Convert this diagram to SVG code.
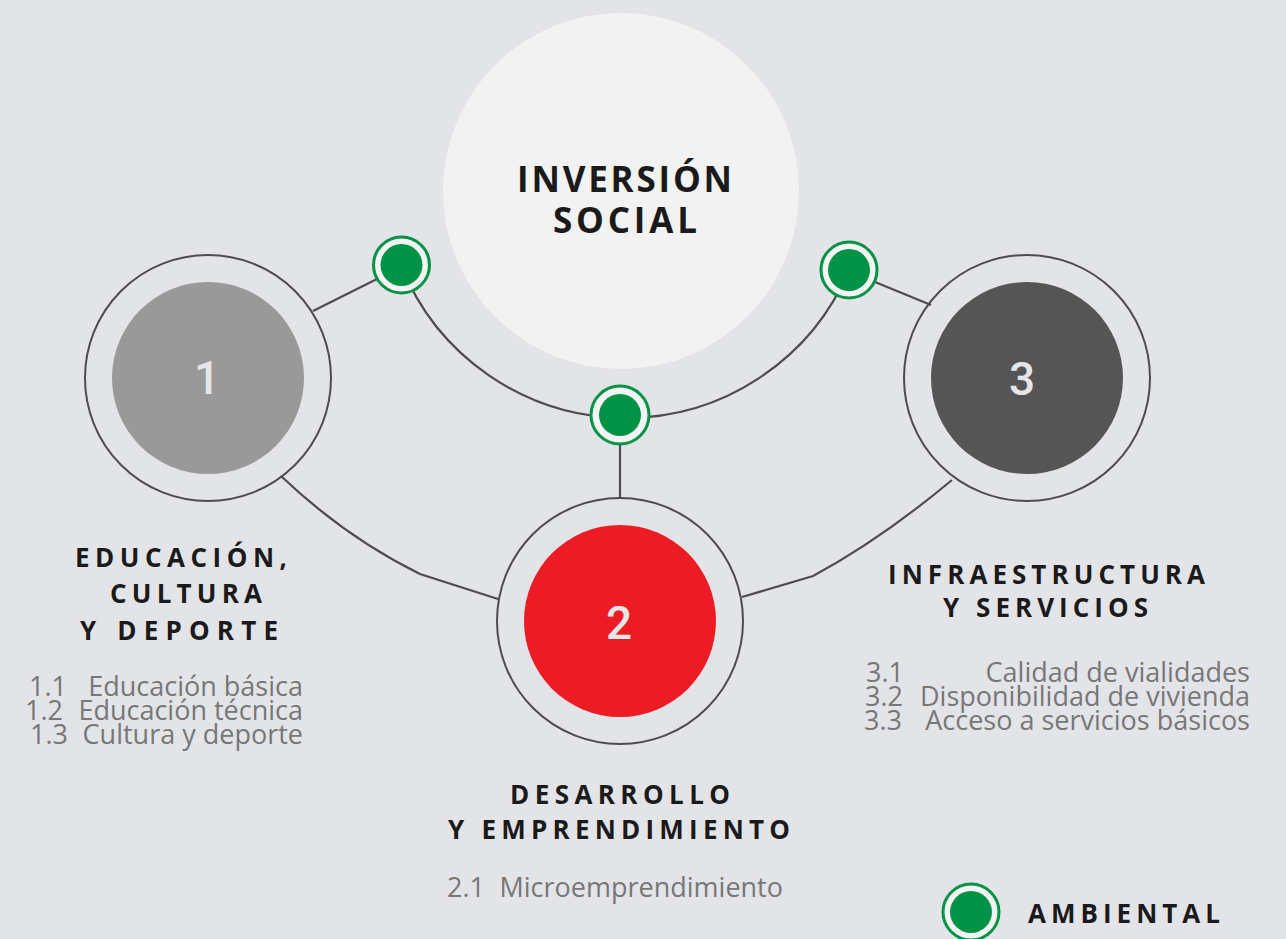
<svg xmlns="http://www.w3.org/2000/svg" width="1286" height="939" viewBox="0 0 1286 939">
<style>
.ring{fill:none;stroke:#4d4d4d;stroke-width:2}
.conn{fill:none;stroke:#4d4d4d;stroke-width:2.2}
.gring{fill:#f4f4f4;stroke:#009245;stroke-width:3}
.gdot{fill:#009245}
.num{font-family:Roboto,"Liberation Sans",sans-serif;font-weight:500;font-size:46px;fill:#e6e6e8;text-anchor:middle}
.head{font-family:"Open Sans","Noto Sans",sans-serif;font-weight:700;fill:#1a1a1a}
.h1{font-size:35px}
.h2{font-size:26px}
.item{font-family:"Open Sans","Noto Sans",sans-serif;font-size:27px;fill:#777777}
.end{text-anchor:end}
</style>
<rect width="1286" height="939" fill="#e3e4e8"/>
<g id="connectors">
<line class="conn" x1="313" y1="311" x2="377" y2="279"/>
<line class="conn" x1="875" y1="282" x2="931" y2="305"/>
<path class="conn" d="M401,265 A242,242 0 0 0 849,270"/>
<line class="conn" x1="620" y1="444" x2="620" y2="498"/>
<path class="conn" d="M281,476 Q345,537 420,574 L498,599"/>
<path class="conn" d="M952,480 Q880,540 813,576 L742,597"/>
</g>
<g id="inversion-social">
<circle cx="621" cy="191" r="178" fill="#f2f2f2"/>
<text class="head h1" x="517" y="192" textLength="215" lengthAdjust="spacing">INVERSIÓN</text>
<text class="head h1" x="553" y="233" textLength="144" lengthAdjust="spacing">SOCIAL</text>
</g>
<g id="node1">
<circle class="ring" cx="208" cy="378" r="123"/>
<circle cx="208" cy="378" r="96" fill="#999999"/>
<text class="num" x="207" y="394">1</text>
</g>
<g id="node2">
<circle class="ring" cx="620" cy="621" r="123"/>
<circle cx="620" cy="621" r="96" fill="#ed1c24"/>
<text class="num" x="619" y="639">2</text>
</g>
<g id="node3">
<circle class="ring" cx="1027" cy="378" r="123"/>
<circle cx="1027" cy="378" r="96" fill="#555555"/>
<text class="num" x="1022" y="395">3</text>
</g>
<g id="green1">
<circle class="gring" cx="401.5" cy="265" r="28"/>
<circle class="gdot" cx="401.5" cy="265" r="21"/>
</g>
<g id="green2">
<circle class="gring" cx="620" cy="415" r="29"/>
<circle class="gdot" cx="620" cy="415" r="21"/>
</g>
<g id="green3">
<circle class="gring" cx="849" cy="270" r="28"/>
<circle class="gdot" cx="849" cy="270" r="21"/>
</g>
<g id="label1">
<text class="head h2" x="75" y="567" textLength="212" lengthAdjust="spacing">EDUCACIÓN,</text>
<text class="head h2" x="110" y="603" textLength="152" lengthAdjust="spacing">CULTURA</text>
<text class="head h2" x="80" y="640" textLength="198" lengthAdjust="spacing">Y DEPORTE</text>
<text class="item" x="29" y="696">1.1</text>
<text class="item end" x="303" y="696">Educación básica</text>
<text class="item" x="25" y="720">1.2</text>
<text class="item end" x="303" y="720">Educación técnica</text>
<text class="item" x="30" y="744">1.3</text>
<text class="item end" x="303" y="744">Cultura y deporte</text>
</g>
<g id="label2">
<text class="head h2" x="510" y="804" textLength="220" lengthAdjust="spacing">DESARROLLO</text>
<text class="head h2" x="448" y="839" textLength="342" lengthAdjust="spacing">Y EMPRENDIMIENTO</text>
<text class="item" x="447" y="897">2.1</text>
<text class="item end" x="783" y="897">Microemprendimiento</text>
</g>
<g id="label3">
<text class="head h2" x="888" y="584" textLength="317" lengthAdjust="spacing">INFRAESTRUCTURA</text>
<text class="head h2" x="943" y="617" textLength="205" lengthAdjust="spacing">Y SERVICIOS</text>
<text class="item" x="866" y="682">3.1</text>
<text class="item end" x="1250" y="682">Calidad de vialidades</text>
<text class="item" x="865" y="706">3.2</text>
<text class="item end" x="1250" y="706">Disponibilidad de vivienda</text>
<text class="item" x="864" y="730">3.3</text>
<text class="item end" x="1250" y="730">Acceso a servicios básicos</text>
</g>
<g id="legend">
<circle class="gring" cx="971" cy="912" r="28"/>
<circle class="gdot" cx="971" cy="912" r="21"/>
<text class="head h2" x="1028" y="923" textLength="192" lengthAdjust="spacing">AMBIENTAL</text>
</g>
</svg>
